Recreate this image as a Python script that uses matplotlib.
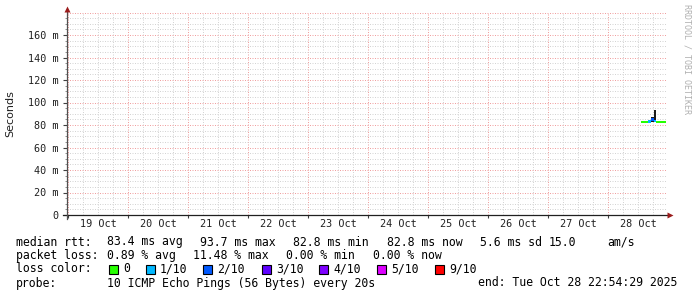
import numpy as np
import matplotlib
matplotlib.use('Agg')
import matplotlib.pyplot as plt
from matplotlib.patches import Rectangle

# time axis in hours from 19 Oct 00:00
day_labels = ['19 Oct', '20 Oct', '21 Oct', '22 Oct', '23 Oct',
              '24 Oct', '25 Oct', '26 Oct', '27 Oct', '28 Oct']
y_ticks = [0, 20, 40, 60, 80, 100, 120, 140, 160]

# median rtt segments (step start hours, last value = end of data)
seg_hours = [229.2, 232.0, 233.2, 234.4, 235.2, 239.2]
median_ms = [82.8, 83.2, 85.0, 83.6, 82.8]
seg_loss = [0, 1, 2, 1, 0]            # index into loss_colors
smoke_lo = [82.6, 82.8, 82.9, 82.8, 82.6]
smoke_hi = [83.0, 84.6, 87.2, 93.7, 83.0]

loss_labels = ['0', '1/10', '2/10', '3/10', '4/10', '5/10', '9/10']
loss_colors = ['#26ff00', '#00b8ff', '#0059ff', '#5e00ff', '#7e00ff', '#dd00ff', '#ff0000']

rtt_stats = ['83.4 ms avg', '93.7 ms max', '82.8 ms min', '82.8 ms now', '5.6 ms sd', '15.0', 'am/s']
loss_stats = ['0.89 % avg', '11.48 % max', '0.00 % min', '0.00 % now']
probe_text = '10 ICMP Echo Pings (56 Bytes) every 20s'
end_text = 'end: Tue Oct 28 22:54:29 2025'

W, H = 697, 297
MONO = 'DejaVu Sans Mono'


def fx(x):
    return x / W


def fy(y):
    return 1 - y / H


fig = plt.figure(figsize=(W / 100, H / 100), dpi=100)
fig.patch.set_facecolor('white')
ax = fig.add_axes([fx(67), fy(215), 600 / W, 202.5 / H])
ax.set_xlim(-0.4, 239.6)
ax.set_ylim(0, 180)
for s in ax.spines.values():
    s.set_visible(False)

# grid
for h in np.arange(0, 240, 6):
    major = h % 24 == 0
    ax.axvline(h, color='#f0a0a0' if major else '#d4d4d4', lw=0.72,
               ls=(0, (1, 1.5)), zorder=0)
for v in np.arange(5, 181, 5):
    major = v % 20 == 0
    ax.axhline(v, color='#f0a0a0' if major else '#d4d4d4', lw=0.72,
               ls=(0, (1, 1.5)), zorder=0)

# smoke + median band
for i in range(len(median_ms)):
    t0, t1 = seg_hours[i], seg_hours[i + 1]
    ax.fill_between([t0, t1], smoke_lo[i], smoke_hi[i], color='#1a1a1a',
                    lw=0, zorder=2)
    m = median_ms[i]
    ax.fill_between([t0, t1], m - 1.2, m + 1.2, color=loss_colors[seg_loss[i]],
                    lw=0, zorder=3)
# redraw spike smoke on top of band
i_spike = int(np.argmax(smoke_hi))
ax.fill_between([seg_hours[i_spike], seg_hours[i_spike + 1]],
                median_ms[i_spike] + 1.2, smoke_hi[i_spike],
                color='#1a1a1a', lw=0, zorder=4)

# axes with arrows
ax.plot([-2, 240.6], [0, 0], color='#202020', lw=0.9, clip_on=False, zorder=5)
ax.plot([240.8], [0], marker='>', ms=4, color='#9b1c1c', mec='none',
        clip_on=False, zorder=6)
ax.plot([-0.4, -0.4], [-3.5, 182], color='#505050', lw=0.9, clip_on=False, zorder=5)
ax.plot([-0.4], [183], marker='^', ms=4, color='#9b1c1c', mec='none',
        clip_on=False, zorder=6)

# ticks
ax.set_yticks(y_ticks)
ax.set_yticklabels(['0' if v == 0 else f'{v} m' for v in y_ticks],
                   family=MONO, fontsize=7.3, color='#202020')
ax.set_yticks(np.arange(5, 180, 5), minor=True)
ax.tick_params(axis='y', which='major', length=3, width=0.8, color='#404040', pad=2.9)
ax.tick_params(axis='y', which='minor', length=1.5, width=0.6, color='#808080')

ax.set_xticks([12 + 24 * i for i in range(len(day_labels))])
ax.set_xticklabels(day_labels, family=MONO, fontsize=7.3, color='#202020')
ax.set_xticks(np.arange(0, 240, 24), minor=True)
ax.tick_params(axis='x', which='major', length=0, pad=3.2)
ax.tick_params(axis='x', which='minor', length=2.5, width=0.8, color='#404040')

# y label and watermark
fig.text(fx(10), fy(113.5), 'Seconds', rotation=90, ha='center', va='center',
         fontsize=8, color='#202020')
fig.text(fx(687), fy(4), 'RRDTOOL / TOBI OETIKER', rotation=270, ha='center',
         va='top', family=MONO, fontsize=6, color='#b0b0b0')

# legend
FS = 8.3
fig.text(fx(16), fy(242), 'median rtt:', family=MONO, fontsize=FS, va='center')
for txt, x in zip(rtt_stats, [107, 200, 293, 387, 480, 549, 607]):
    fig.text(fx(x), fy(242), txt, family=MONO, fontsize=FS, va='center')

fig.text(fx(16), fy(255.5), 'packet loss:', family=MONO, fontsize=FS, va='center')
for txt, x in zip(loss_stats, [107, 193, 286, 373]):
    fig.text(fx(x), fy(255.5), txt, family=MONO, fontsize=FS, va='center')

fig.text(fx(16), fy(269), 'loss color:', family=MONO, fontsize=FS, va='center')
sq_x = [109, 146, 203, 262, 319, 377, 435]
for lab, col, x in zip(loss_labels, loss_colors, sq_x):
    fig.add_artist(Rectangle((fx(x), fy(273.5)), 8.5 / W, 9 / H, transform=fig.transFigure,
                             facecolor=col, edgecolor='black', lw=0.8))
    fig.text(fx(x + 14), fy(269), lab, family=MONO, fontsize=FS, va='center')

fig.text(fx(16), fy(283), 'probe:', family=MONO, fontsize=FS, va='center')
fig.text(fx(107), fy(283), probe_text, family=MONO, fontsize=FS, va='center')
fig.text(fx(478), fy(283), end_text, family=MONO, fontsize=FS, va='center')

fig.savefig('out.png', dpi=100, facecolor='white')
